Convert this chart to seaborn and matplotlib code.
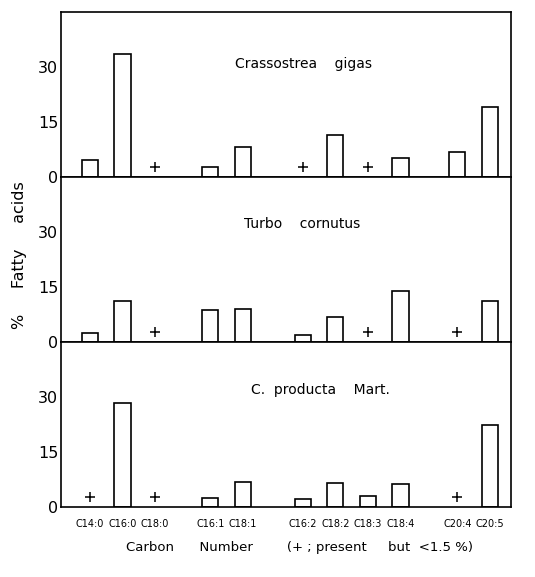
import numpy as np
import pandas as pd
import matplotlib
matplotlib.use("Agg")
import matplotlib.pyplot as plt
import seaborn as sns

# ---- data -------------------------------------------------------------
categories = ["C14:0", "C16:0", "C18:0",
              "C16:1", "C18:1",
              "C16:2", "C18:2", "C18:3", "C18:4",
              "C20:4", "C20:5"]
group_sizes = [3, 2, 4, 2]
species = ["Crassostrea    gigas", "Turbo    cornutus", "C.  producta    Mart."]

# None = present but < 1.5 % (drawn as "+")
gigas    = [4.7, 33.5, None, 2.6, 8.3, None, 11.5, None, 5.2, 6.9, 19.0]
turbo    = [2.3, 11.0, None, 8.8, 9.0, 1.8, 6.8, None, 13.9, None, 11.1]
producta = [None, 28.4, None, 2.4, 6.8, 2.2, 6.5, 3.0, 6.3, None, 22.2]
series = [gigas, turbo, producta]

yticks = [0, 15, 30]

# ---- layout helpers ---------------------------------------------------
group_gaps = [1.7, 1.85, 1.75]
positions = []
p = 0.0
for gi, n in enumerate(group_sizes):
    for k in range(n):
        positions.append(p)
        p += 1.0
    if gi < len(group_gaps):
        p += group_gaps[gi] - 1.0
positions = np.array(positions)
trace_level = 2.7

sns.set_theme(style="white")
plt.rcParams["font.family"] = ["DejaVu Sans"]
plt.rcParams.update({"text.color": "black", "axes.labelcolor": "black",
                     "xtick.color": "black", "ytick.color": "black"})

fig = plt.figure(figsize=(5.35, 5.77), dpi=100)
fig.patch.set_facecolor("white")
axes = fig.subplots(3, 1, sharex=True)
fig.subplots_adjust(left=0.114, right=0.955, top=0.979, bottom=0.122, hspace=0)

title_pos = [(0.538, 0.687), (0.535, 0.713), (0.576, 0.709)]

for ax, name, vals, tp in zip(axes, species, series, title_pos):
    df = pd.DataFrame({"pos": positions, "cat": categories, "val": vals})
    present = df.dropna(subset=["val"])
    trace = df[df["val"].isna()].copy()
    trace["val"] = trace_level
    sns.barplot(data=present, x="pos", y="val", native_scale=True, width=0.5,
                fill=False, color="black", linewidth=1.2, ax=ax, errorbar=None)
    for patch in ax.patches:
        patch.set_edgecolor("black")
        patch.set_facecolor("none")
    sns.scatterplot(data=trace, x="pos", y="val", marker="+", s=60,
                    color="black", linewidth=1.1, ax=ax, legend=False)
    ax.set_ylim(0, 45)
    ax.set_xlim(-0.89, 12.95)
    ax.set_yticks(yticks)
    ax.set_yticklabels([str(t) for t in yticks], fontsize=11.5)
    ax.tick_params(axis="y", length=0, pad=2)
    ax.tick_params(axis="x", length=0, pad=9)
    ax.set_ylabel("")
    ax.set_xlabel("")
    for s in ax.spines.values():
        s.set_visible(True)
        s.set_color("black")
        s.set_linewidth(1.2)
    ax.text(tp[0], tp[1], name, transform=ax.transAxes, ha="center",
            va="center", fontsize=10, color="black")
    ax.set_facecolor("white")

axes[-1].set_xticks(positions)
axes[-1].set_xticklabels(categories, fontsize=7)

fig.text(0.036, 1 - 255 / 577, "%     Fatty     acids", rotation=90,
         ha="center", va="center", fontsize=11.5, color="black")
fig.text(300 / 535, 1 - 548 / 577,
         "Carbon      Number        (+ ; present     but  <1.5 %)",
         ha="center", va="center", fontsize=9.5, color="black")

fig.savefig("out.png", dpi=100, facecolor="white")
